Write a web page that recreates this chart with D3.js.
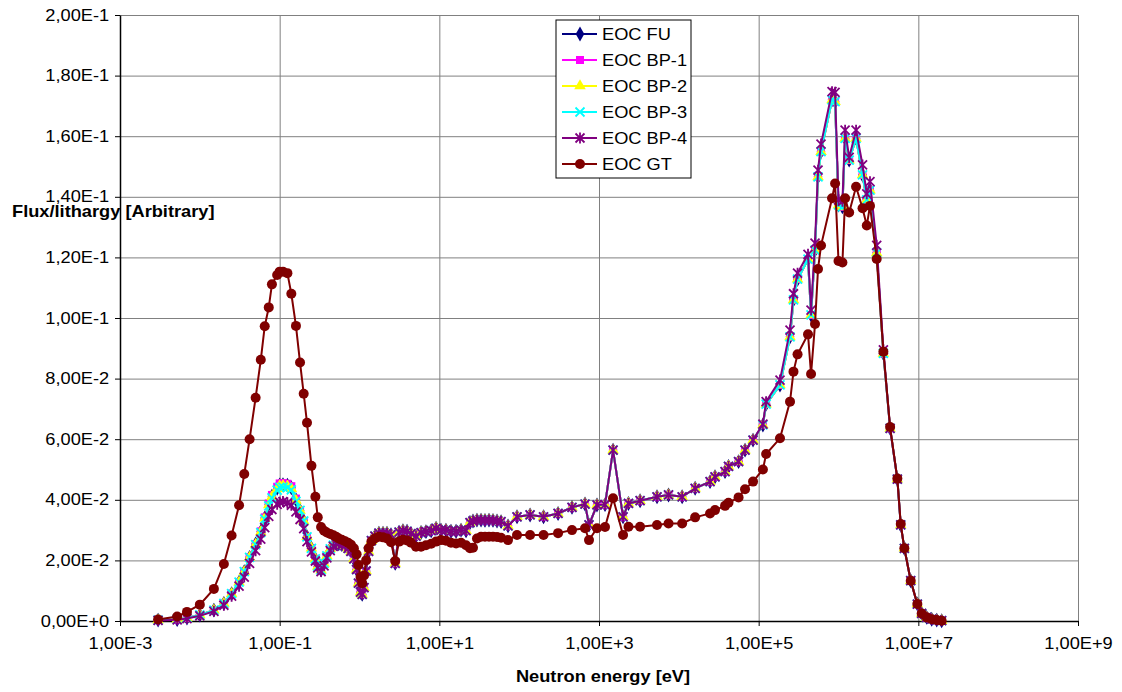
<!DOCTYPE html>
<html>
<head>
<meta charset="utf-8">
<script src="https://cdn.jsdelivr.net/npm/d3@7"></script>
<style>
    body { margin: 0; background: #fff; }
    svg { display: block; font-family: "Liberation Sans", Arial, sans-serif; }
</style>
</head>
<body>
<svg id="chart" width="1122" height="692"></svg>
<script>
// Neutron energy grid [eV]
const energy = [
    3.0e-3, 5.2e-3, 6.9e-3, 1.0e-2, 1.5e-2, 2.0e-2, 2.5e-2, 3.1e-2, 3.6e-2, 4.2e-2,
    5.0e-2, 5.8e-2, 6.5e-2, 7.3e-2, 8.0e-2, 9.3e-2, 0.10, 0.11, 0.125, 0.14,
    0.16, 0.18, 0.20, 0.22, 0.25, 0.28, 0.30, 0.33, 0.36, 0.39,
    0.43, 0.47, 0.51, 0.55, 0.60, 0.66, 0.72, 0.78, 0.85, 0.92,
    0.97, 1.03, 1.08, 1.14, 1.21, 1.30, 1.41, 1.56, 1.75, 1.97,
    2.21, 2.48, 2.8, 3.13, 3.5, 3.94, 4.42, 5.1, 5.9, 6.8,
    7.9, 9.1, 10.5, 12.1, 14, 16.2, 18.7, 21.6, 24.2, 26.4,
    29.6, 33.3, 37.3, 41.9, 47, 52.8, 59.3, 72.5, 94, 137,
    202, 307, 459, 668, 750, 944, 1190, 1500, 2000, 2340,
    3270, 5330, 7430, 1.1e4, 1.6e4, 2.46e4, 2.84e4, 3.79e4, 4.19e4, 5.6e4,
    6.75e4, 8.5e4, 1.13e5, 1.24e5, 1.85e5, 2.47e5, 2.73e5, 3.07e5, 4.15e5, 4.53e5,
    5.08e5, 5.54e5, 6.04e5, 8.3e5, 9.06e5, 1.0e6, 1.12e6, 1.21e6, 1.36e6, 1.66e6,
    2.0e6, 2.26e6, 2.48e6, 3.01e6, 3.65e6, 4.43e6, 5.46e6, 6.02e6, 6.68e6, 8.03e6,
    9.72e6, 1.1e7, 1.27e7, 1.47e7, 1.70e7, 1.96e7
];

const fluxFU = [
    .0003, .0005, .0010, .0020, .0036, .0058, .0090, .0128, .0163, .0210,
    .0254, .0295, .0340, .0385, .0412, .0438, .0449, .0450, .0448, .0440,
    .0400, .0365, .0330, .0278, .0240, .0205, .0180, .0168, .0190, .0215,
    .0238, .0250, .0255, .0255, .0252, .0248, .0240, .0230, .0205, .0170,
    .0125, .0095, .0088, .0110, .0165, .0230, .0265, .0280, .0290, .0290,
    .0290, .0285, .0190, .0293, .0298, .0296, .0288, .0280, .0292, .0295,
    .0298, .0306, .0300, .0300, .0296, .0296, .0300, .0298, .0325, .0330,
    .0333, .0333, .0332, .0333, .0332, .0330, .0328, .0314, .0344, .0350,
    .0344, .0355, .0375, .0386, .0317, .0383, .0384, .0564, .0344, .0388,
    .0397, .0410, .0416, .0410, .0438, .0460, .0476, .0493, .0510, .0526,
    .0564, .0597, .0647, .0716, .0779, .0938, .1060, .1128, .1194, .1010,
    .1224, .1466, .1549, .1720, .1714, .1373, .1367, .1593, .1521, .1593,
    .1472, .1390, .1422, .1215, .0883, .0636, .0468, .0317, .0240, .0133,
    .0056, .0025, .0012, .0006, .0003, .0001
];

const fluxBP1 = [
    .0003, .0005, .0010, .0020, .0036, .0058, .0090, .0128, .0163, .0210,
    .0254, .0296, .0342, .0388, .0416, .0443, .0454, .0455, .0453, .0445,
    .0404, .0365, .0330, .0278, .0240, .0205, .0180, .0168, .0190, .0215,
    .0238, .0250, .0255, .0255, .0252, .0248, .0240, .0230, .0205, .0170,
    .0125, .0095, .0088, .0110, .0165, .0230, .0265, .0280, .0290, .0290,
    .0290, .0285, .0190, .0293, .0298, .0296, .0288, .0280, .0292, .0295,
    .0298, .0306, .0300, .0300, .0296, .0296, .0300, .0298, .0325, .0330,
    .0333, .0333, .0332, .0333, .0332, .0330, .0328, .0314, .0344, .0350,
    .0344, .0355, .0375, .0386, .0317, .0383, .0384, .0564, .0344, .0388,
    .0397, .0410, .0416, .0410, .0438, .0460, .0476, .0493, .0510, .0526,
    .0564, .0597, .0647, .0716, .0779, .0938, .1060, .1128, .1194, .1010,
    .1224, .1466, .1549, .1720, .1714, .1373, .1367, .1593, .1521, .1593,
    .1472, .1390, .1422, .1215, .0883, .0636, .0468, .0317, .0240, .0133,
    .0056, .0025, .0012, .0006, .0003, .0001
];

const fluxBP2 = [
    .0003, .0005, .0010, .0020, .0036, .0058, .0090, .0128, .0163, .0210,
    .0253, .0294, .0339, .0383, .0410, .0436, .0446, .0447, .0445, .0437,
    .0398, .0365, .0330, .0278, .0240, .0205, .0180, .0168, .0190, .0215,
    .0238, .0250, .0255, .0255, .0252, .0248, .0240, .0230, .0205, .0170,
    .0125, .0095, .0088, .0110, .0165, .0230, .0265, .0280, .0290, .0290,
    .0290, .0285, .0190, .0293, .0298, .0296, .0288, .0280, .0292, .0295,
    .0298, .0306, .0300, .0300, .0296, .0296, .0300, .0298, .0325, .0330,
    .0333, .0333, .0332, .0333, .0332, .0330, .0328, .0314, .0344, .0350,
    .0344, .0355, .0375, .0386, .0317, .0383, .0384, .0564, .0344, .0388,
    .0397, .0410, .0416, .0410, .0438, .0460, .0476, .0493, .0510, .0526,
    .0564, .0597, .0647, .0716, .0779, .0938, .1060, .1128, .1194, .1010,
    .1224, .1466, .1549, .1720, .1714, .1373, .1367, .1593, .1521, .1593,
    .1472, .1390, .1422, .1215, .0883, .0636, .0468, .0317, .0240, .0133,
    .0056, .0025, .0012, .0006, .0003, .0001
];

const fluxBP3 = [
    .0003, .0005, .0010, .0020, .0036, .0058, .0090, .0128, .0163, .0210,
    .0252, .0292, .0336, .0380, .0406, .0432, .0441, .0442, .0440, .0433,
    .0395, .0365, .0330, .0278, .0240, .0205, .0180, .0168, .0190, .0215,
    .0238, .0250, .0255, .0255, .0252, .0248, .0240, .0230, .0205, .0170,
    .0125, .0095, .0088, .0110, .0165, .0230, .0265, .0280, .0290, .0290,
    .0290, .0285, .0190, .0293, .0298, .0296, .0288, .0280, .0292, .0295,
    .0298, .0306, .0300, .0300, .0296, .0296, .0300, .0298, .0325, .0330,
    .0333, .0333, .0332, .0333, .0332, .0330, .0328, .0314, .0344, .0350,
    .0344, .0355, .0375, .0386, .0317, .0383, .0384, .0564, .0344, .0388,
    .0397, .0410, .0416, .0410, .0438, .0460, .0476, .0493, .0510, .0526,
    .0564, .0597, .0647, .0716, .0779, .0938, .1060, .1128, .1194, .1010,
    .1224, .1466, .1549, .1720, .1714, .1373, .1367, .1593, .1521, .1593,
    .1472, .1390, .1422, .1215, .0883, .0636, .0468, .0317, .0240, .0133,
    .0056, .0025, .0012, .0006, .0003, .0001
];

const fluxBP4 = [
    .0002, .0004, .0008, .0017, .0032, .0052, .0082, .0115, .0145, .0190,
    .0232, .0270, .0308, .0345, .0368, .0385, .0392, .0394, .0390, .0382,
    .0360, .0335, .0305, .0262, .0228, .0198, .0175, .0163, .0182, .0208,
    .0232, .0246, .0255, .0255, .0252, .0248, .0240, .0230, .0205, .0170,
    .0125, .0095, .0088, .0110, .0165, .0230, .0265, .0280, .0290, .0290,
    .0290, .0285, .0190, .0293, .0298, .0296, .0288, .0280, .0292, .0295,
    .0298, .0306, .0300, .0300, .0296, .0296, .0300, .0298, .0325, .0330,
    .0333, .0333, .0332, .0333, .0332, .0330, .0328, .0314, .0344, .0350,
    .0344, .0355, .0375, .0386, .0317, .0383, .0384, .0564, .0344, .0388,
    .0397, .0410, .0416, .0410, .0438, .0460, .0476, .0493, .0510, .0526,
    .0564, .0597, .0650, .0724, .0795, .0960, .1080, .1148, .1210, .1026,
    .1247, .1488, .1574, .1747, .1745, .1390, .1385, .1620, .1530, .1620,
    .1505, .1410, .1450, .1240, .0895, .0636, .0468, .0317, .0240, .0133,
    .0056, .0025, .0012, .0006, .0003, .0001
];

const fluxGT = [
    .0005, .0015, .0030, .0054, .0106, .0188, .0282, .0382, .0485, .0600,
    .0737, .0862, .0973, .1035, .1111, .1142, .1153, .1153, .1148, .1080,
    .0974, .0853, .0750, .0654, .0512, .0410, .0342, .0310, .0298, .0292,
    .0287, .0283, .0278, .0272, .0268, .0263, .0258, .0252, .0240, .0220,
    .0185, .0145, .0125, .0150, .0200, .0240, .0262, .0272, .0278, .0276,
    .0272, .0260, .0198, .0262, .0268, .0266, .0258, .0245, .0245, .0250,
    .0255, .0262, .0267, .0265, .0258, .0256, .0258, .0250, .0240, .0242,
    .0272, .0278, .0278, .0278, .0278, .0277, .0275, .0267, .0284, .0284,
    .0284, .0290, .0300, .0306, .0267, .0306, .0310, .0405, .0284, .0311,
    .0311, .0317, .0322, .0322, .0342, .0355, .0366, .0380, .0390, .0408,
    .0435, .0460, .0500, .0551, .0603, .0724, .0823, .0880, .0946, .0815,
    .0980, .1162, .1239, .1395, .1444, .1188, .1183, .1395, .1348, .1433,
    .1362, .1305, .1370, .1195, .0889, .0640, .0470, .0320, .0240, .0133,
    .0056, .0025, .0012, .0006, .0003, .0001
];

const seriesNames = ['EOC FU', 'EOC BP-1', 'EOC BP-2', 'EOC BP-3', 'EOC BP-4', 'EOC GT'];
const xTicks = [1e-3, 1e-1, 1e1, 1e3, 1e5, 1e7, 1e9];
const yTicks = [0, 0.02, 0.04, 0.06, 0.08, 0.10, 0.12, 0.14, 0.16, 0.18, 0.20];

// layout
const margin = { top: 15, right: 44, bottom: 71, left: 120 };
const width = 1122 - margin.left - margin.right;
const height = 692 - margin.top - margin.bottom;
const textStretch = 'scale(1.14,1)';

const svg = d3.select('#chart');
const g = svg.append('g').attr('transform', `translate(${margin.left},${margin.top})`);

const x = d3.scaleLog().domain([1e-3, 1e9]).range([0, width]);
const y = d3.scaleLinear().domain([0, 0.2]).range([height, 0]);

// "1,00E-3" style labels
function sci(v) {
    if (v === 0) return '0,00E+0';
    const e = Math.floor(Math.log10(v) + 1e-9);
    const m = v / Math.pow(10, e);
    return m.toFixed(2).replace('.', ',') + 'E' + (e >= 0 ? '+' : '') + e;
}

// gridlines
g.append('g')
    .attr('class', 'grid')
    .call(d3.axisLeft(y).tickValues(yTicks).tickSize(-width).tickFormat(''))
    .call(s => s.select('.domain').remove())
    .call(s => s.selectAll('line').attr('stroke', '#808080').attr('stroke-width', 1));
g.append('g')
    .attr('class', 'grid')
    .attr('transform', `translate(0,${height})`)
    .call(d3.axisBottom(x).tickValues(xTicks).tickSize(-height).tickFormat(''))
    .call(s => s.select('.domain').remove())
    .call(s => s.selectAll('line').attr('stroke', '#808080').attr('stroke-width', 1));

// axes
const yAxisG = g.append('g')
    .call(d3.axisLeft(y).tickValues(yTicks).tickSize(5).tickSizeOuter(0).tickFormat(sci));
yAxisG.selectAll('text')
    .attr('x', -9.5)
    .attr('transform', textStretch)
    .style('font-size', '16px')
    .attr('fill', '#000');

const xAxisG = g.append('g')
    .attr('transform', `translate(0,${height})`)
    .call(d3.axisBottom(x).tickValues(xTicks).tickSize(5).tickSizeOuter(0).tickFormat(sci));
xAxisG.selectAll('text')
    .attr('y', 17)
    .attr('transform', textStretch)
    .style('font-size', '16px')
    .attr('fill', '#000');

[yAxisG, xAxisG].forEach(a => {
    a.select('.domain').attr('stroke', '#000').attr('stroke-width', 1.5);
    a.selectAll('.tick line').attr('stroke', '#000');
});

// axis titles
svg.append('text')
    .attr('transform', `translate(12,217) ${textStretch}`)
    .style('font-size', '16px')
    .style('font-weight', 'bold')
    .text('Flux/lithargy [Arbitrary]');

svg.append('text')
    .attr('transform', `translate(603,682) ${textStretch}`)
    .style('font-size', '16px')
    .style('font-weight', 'bold')
    .attr('text-anchor', 'middle')
    .text('Neutron energy [eV]');

// marker shapes
const crossPath = 'M-4.5,-4.5L4.5,4.5M-4.5,4.5L4.5,-4.5';
const starPath = 'M-4.5,-4.5L4.5,4.5M-4.5,4.5L4.5,-4.5M0,-5.5L0,5.5';
const markers = {
    diamond: sel => sel.append('path').attr('d', d3.symbol(d3.symbolDiamond, 64)()),
    square: sel => sel.append('path').attr('d', d3.symbol(d3.symbolSquare, 64)()),
    triangle: sel => sel.append('path').attr('d', d3.symbol(d3.symbolTriangle, 58)()),
    cross: sel => sel.append('path').attr('d', crossPath).attr('fill', 'none').attr('stroke-width', 1.8),
    star: sel => sel.append('path').attr('d', starPath).attr('fill', 'none').attr('stroke-width', 1.8),
    circle: sel => sel.append('circle').attr('r', 5)
};

const series = [
    { name: seriesNames[0], values: fluxFU, color: '#000080', marker: 'diamond' },
    { name: seriesNames[1], values: fluxBP1, color: '#ff00ff', marker: 'square' },
    { name: seriesNames[2], values: fluxBP2, color: '#ffff00', marker: 'triangle' },
    { name: seriesNames[3], values: fluxBP3, color: '#00ffff', marker: 'cross' },
    { name: seriesNames[4], values: fluxBP4, color: '#800080', marker: 'star' },
    { name: seriesNames[5], values: fluxGT, color: '#800000', marker: 'circle' }
];

const line = d3.line()
    .x(d => x(d.e))
    .y(d => y(d.f));

function drawMarker(sel, s) {
    markers[s.marker](sel);
    const stroked = s.marker === 'cross' || s.marker === 'star';
    sel.selectAll('path, circle')
        .attr('fill', stroked ? 'none' : s.color)
        .attr('stroke', stroked ? s.color : 'none');
}

series.forEach(s => {
    const pts = energy.map((e, i) => ({ e: e, f: s.values[i] }));
    g.append('path')
        .datum(pts)
        .attr('d', line)
        .attr('fill', 'none')
        .attr('stroke', s.color)
        .attr('stroke-width', 2);
    g.append('g')
        .selectAll('g')
        .data(pts)
        .join('g')
        .attr('transform', d => `translate(${x(d.e)},${y(d.f)})`)
        .each(function () { drawMarker(d3.select(this), s); });
});

// legend
const legend = svg.append('g').attr('transform', 'translate(556,20)');
legend.append('rect')
    .attr('width', 135)
    .attr('height', 158)
    .attr('fill', '#fff')
    .attr('stroke', '#000')
    .attr('stroke-width', 1);

series.forEach((s, i) => {
    const row = legend.append('g').attr('transform', `translate(0,${14 + i * 26})`);
    row.append('line')
        .attr('x1', 6).attr('x2', 41)
        .attr('stroke', s.color)
        .attr('stroke-width', 2);
    const m = row.append('g').attr('transform', 'translate(24,0)');
    drawMarker(m, s);
    row.append('text')
        .attr('transform', `translate(46,6) ${textStretch}`)
        .style('font-size', '16px')
        .text(s.name);
});
</script>
</body>
</html>
